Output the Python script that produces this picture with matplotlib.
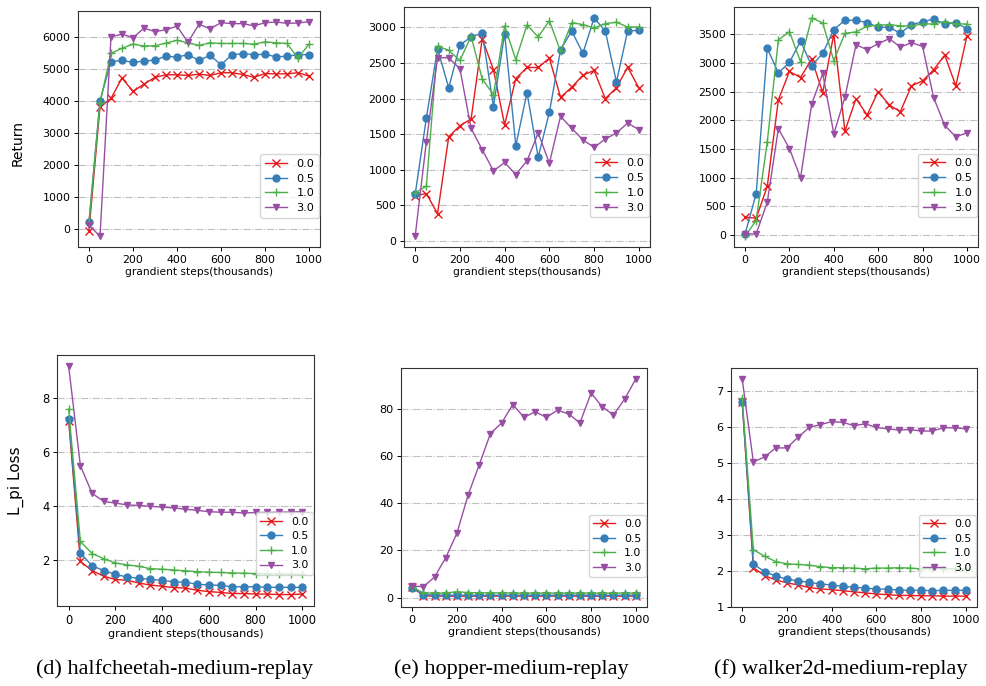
import matplotlib
matplotlib.use("Agg")
import matplotlib.pyplot as plt

steps = [0, 50, 100, 150, 200, 250, 300, 350, 400, 450, 500,
         550, 600, 650, 700, 750, 800, 850, 900, 950, 1000]
series_labels = ["0.0", "0.5", "1.0", "3.0"]
colors = ["#e41a1c", "#377eb8", "#4daf4a", "#984ea3"]
markers = ["x", "o", "+", "v"]

# (d) halfcheetah - Return
hc_ret_00 = [-50, 3820, 4080, 4720, 4300, 4530, 4740, 4820, 4820, 4800, 4840,
             4800, 4885, 4885, 4830, 4740, 4860, 4850, 4850, 4885, 4780]
hc_ret_05 = [230, 4010, 5230, 5270, 5210, 5250, 5280, 5400, 5375, 5450, 5270,
             5430, 5135, 5450, 5480, 5450, 5460, 5385, 5400, 5450, 5450]
hc_ret_10 = [200, 3950, 5490, 5650, 5780, 5720, 5730, 5810, 5900, 5820, 5740,
             5820, 5800, 5800, 5800, 5780, 5850, 5820, 5800, 5340, 5780]
hc_ret_30 = [120, -230, 6010, 6090, 5980, 6280, 6170, 6230, 6340, 5840, 6400,
             6260, 6450, 6420, 6420, 6350, 6450, 6470, 6430, 6440, 6480]

# (e) hopper - Return
hp_ret_00 = [635, 663, 381, 1463, 1618, 1712, 2841, 2404, 1632, 2281, 2436,
             2436, 2568, 2018, 2159, 2328, 2394, 1999, 2150, 2441, 2150]
hp_ret_05 = [654, 1726, 2700, 2150, 2752, 2865, 2921, 1886, 2912, 1336, 2084,
             1176, 1806, 2686, 2949, 2634, 3133, 2949, 2234, 2949, 2958]
hp_ret_10 = [673, 767, 2738, 2676, 2535, 2874, 2272, 2055, 3020, 2545, 3034,
             2865, 3095, 2662, 3067, 3039, 2992, 3053, 3072, 3006, 3006]
hp_ret_30 = [66, 1392, 2573, 2573, 2418, 1580, 1279, 983, 1101, 931, 1124,
             1515, 1091, 1750, 1580, 1420, 1312, 1430, 1515, 1656, 1562]

# (f) walker2d - Return
wk_ret_00 = [310, 292, 847, 2354, 2850, 2745, 3066, 2482, 3504, 1810, 2377,
             2091, 2500, 2266, 2149, 2599, 2686, 2879, 3136, 2599, 3463]
wk_ret_05 = [18, 718, 3253, 2827, 3008, 3381, 2949, 3165, 3580, 3743, 3743,
             3703, 3621, 3621, 3516, 3668, 3714, 3767, 3674, 3703, 3592]
wk_ret_10 = [-20, 251, 1624, 3399, 3545, 3019, 3784, 3697, 3037, 3516, 3539,
             3638, 3656, 3668, 3644, 3644, 3679, 3679, 3720, 3679, 3679]
wk_ret_30 = [18, 18, 572, 1851, 1507, 993, 2278, 2815, 1764, 2400, 3317,
             3230, 3335, 3422, 3276, 3352, 3288, 2394, 1910, 1711, 1781]

# (d) halfcheetah - L_pi Loss
hc_loss_00 = [7.17, 1.96, 1.62, 1.41, 1.29, 1.26, 1.16, 1.08, 1.04, 0.99, 0.97,
              0.89, 0.84, 0.81, 0.77, 0.77, 0.75, 0.75, 0.73, 0.73, 0.75]
hc_loss_05 = [7.25, 2.27, 1.80, 1.62, 1.48, 1.38, 1.34, 1.29, 1.26, 1.20, 1.19,
              1.11, 1.09, 1.07, 1.02, 1.02, 1.02, 1.00, 1.00, 1.00, 1.00]
hc_loss_10 = [7.60, 2.70, 2.25, 2.06, 1.90, 1.83, 1.78, 1.69, 1.67, 1.64, 1.61,
              1.58, 1.56, 1.55, 1.53, 1.52, 1.51, 1.50, 1.50, 1.49, 1.48]
hc_loss_30 = [9.18, 5.51, 4.48, 4.18, 4.12, 4.05, 4.03, 4.00, 3.97, 3.94, 3.89,
              3.85, 3.80, 3.78, 3.78, 3.75, 3.77, 3.77, 3.78, 3.79, 3.80]

# (e) hopper - L_pi Loss
hp_loss_00 = [4.6, 0.7, 0.6, 0.6, 0.6, 0.6, 0.6, 0.6, 0.6, 0.6, 0.6,
              0.6, 0.6, 0.6, 0.6, 0.6, 0.6, 0.6, 0.6, 0.6, 0.6]
hp_loss_05 = [4.2, 1.2, 1.1, 1.0, 1.0, 1.0, 1.0, 1.0, 1.0, 1.0, 1.0,
              1.0, 1.0, 1.0, 1.0, 1.0, 1.0, 1.0, 1.0, 1.0, 1.0]
hp_loss_10 = [4.4, 2.0, 1.9, 1.9, 2.5, 2.1, 2.0, 2.0, 2.0, 1.9, 1.9,
              1.9, 1.9, 1.9, 1.9, 1.9, 1.9, 1.9, 1.9, 1.9, 1.9]
hp_loss_30 = [4.9, 4.6, 8.7, 16.9, 27.3, 43.5, 56.4, 69.6, 74.1, 81.9, 76.5,
              78.8, 76.5, 79.5, 77.9, 74.1, 86.8, 80.9, 77.5, 84.2, 92.8]

# (f) walker2d - L_pi Loss
wk_loss_00 = [6.69, 2.08, 1.86, 1.74, 1.66, 1.60, 1.53, 1.49, 1.47, 1.44, 1.41,
              1.38, 1.35, 1.33, 1.31, 1.31, 1.30, 1.30, 1.29, 1.29, 1.29]
wk_loss_05 = [6.69, 2.18, 1.97, 1.85, 1.76, 1.72, 1.67, 1.63, 1.60, 1.56, 1.54,
              1.51, 1.49, 1.48, 1.46, 1.45, 1.45, 1.44, 1.45, 1.45, 1.45]
wk_loss_10 = [6.80, 2.58, 2.40, 2.25, 2.19, 2.17, 2.15, 2.11, 2.08, 2.08, 2.07,
              2.05, 2.07, 2.07, 2.08, 2.07, 2.05, 2.05, 2.05, 2.05, 2.05]
wk_loss_30 = [7.33, 5.02, 5.16, 5.41, 5.41, 5.71, 5.98, 6.06, 6.14, 6.12, 6.03,
              6.08, 5.98, 5.94, 5.91, 5.92, 5.88, 5.88, 5.97, 5.97, 5.94]

x_ticks = [0, 200, 400, 600, 800, 1000]
hc_ret_ticks = [0, 1000, 2000, 3000, 4000, 5000, 6000]
hp_ret_ticks = [0, 500, 1000, 1500, 2000, 2500, 3000]
wk_ret_ticks = [0, 500, 1000, 1500, 2000, 2500, 3000, 3500]
hc_loss_ticks = [2, 4, 6, 8]
hp_loss_ticks = [0, 20, 40, 60, 80]
wk_loss_ticks = [1, 2, 3, 4, 5, 6, 7]

xlabel = "grandient steps(thousands)"
captions = ["(d) halfcheetah-medium-replay", "(e) hopper-medium-replay",
            "(f) walker2d-medium-replay"]

W, H = 987, 686
fig = plt.figure(figsize=(W / 100, H / 100), dpi=100)


def px_axes(x0, y0, x1, y1):
    return fig.add_axes([x0 / W, 1 - y1 / H, (x1 - x0) / W, (y1 - y0) / H])


panels = [
    ((78, 11, 320, 247), [hc_ret_00, hc_ret_05, hc_ret_10, hc_ret_30], hc_ret_ticks, 7.9, 8.1),
    ((404, 7, 650, 247), [hp_ret_00, hp_ret_05, hp_ret_10, hp_ret_30], hp_ret_ticks, 7.9, 8.1),
    ((734, 7, 978, 247), [wk_ret_00, wk_ret_05, wk_ret_10, wk_ret_30], wk_ret_ticks, 7.9, 8.1),
    ((57, 355, 314, 606), [hc_loss_00, hc_loss_05, hc_loss_10, hc_loss_30], hc_loss_ticks, 8.3, 7.9),
    ((401, 368, 647, 607), [hp_loss_00, hp_loss_05, hp_loss_10, hp_loss_30], hp_loss_ticks, 8.1, 7.9),
    ((731, 368, 977, 607), [wk_loss_00, wk_loss_05, wk_loss_10, wk_loss_30], wk_loss_ticks, 8.1, 7.9),
]

for box, data, yt, fs, lfs in panels:
    ax = px_axes(*box)
    for vals, lab, c, m in zip(data, series_labels, colors, markers):
        ms = 5 if m in ("o", "v") else 5.5
        ax.plot(steps, vals, color=c, marker=m, label=lab, lw=1.0,
                markersize=ms, markeredgewidth=1.0)
    ax.set_xticks(x_ticks)
    ax.set_yticks(yt)
    ax.tick_params(labelsize=fs, length=3, width=0.7, pad=2.5)
    ax.yaxis.grid(True, linestyle="-.", color="#c0c0c0", lw=0.8)
    ax.set_axisbelow(True)
    for s in ax.spines.values():
        s.set_linewidth(0.8)
        s.set_color("#333333")
    ax.set_xlabel(xlabel, fontsize=fs - 0.2, labelpad=2)
    ax.legend(loc="lower right", bbox_to_anchor=(1.0, 0.12), borderaxespad=0.1,
              fontsize=lfs, handlelength=2.0, labelspacing=0.42,
              borderpad=0.4, framealpha=0.8)

fig.text(18 / W, 1 - 143 / H, "Return", rotation=90, ha="center", va="center",
         fontsize=10)
fig.text(16 / W, 1 - 481 / H, "L_pi Loss", rotation=90, ha="center", va="center",
         fontsize=11)

cap_x = [175, 511, 841]
for cx, t in zip(cap_x, captions):
    fig.text(cx / W, 1 - 669 / H, t, ha="center", va="center",
             fontsize=16, family="Liberation Serif")

fig.savefig("out.png", dpi=100)
